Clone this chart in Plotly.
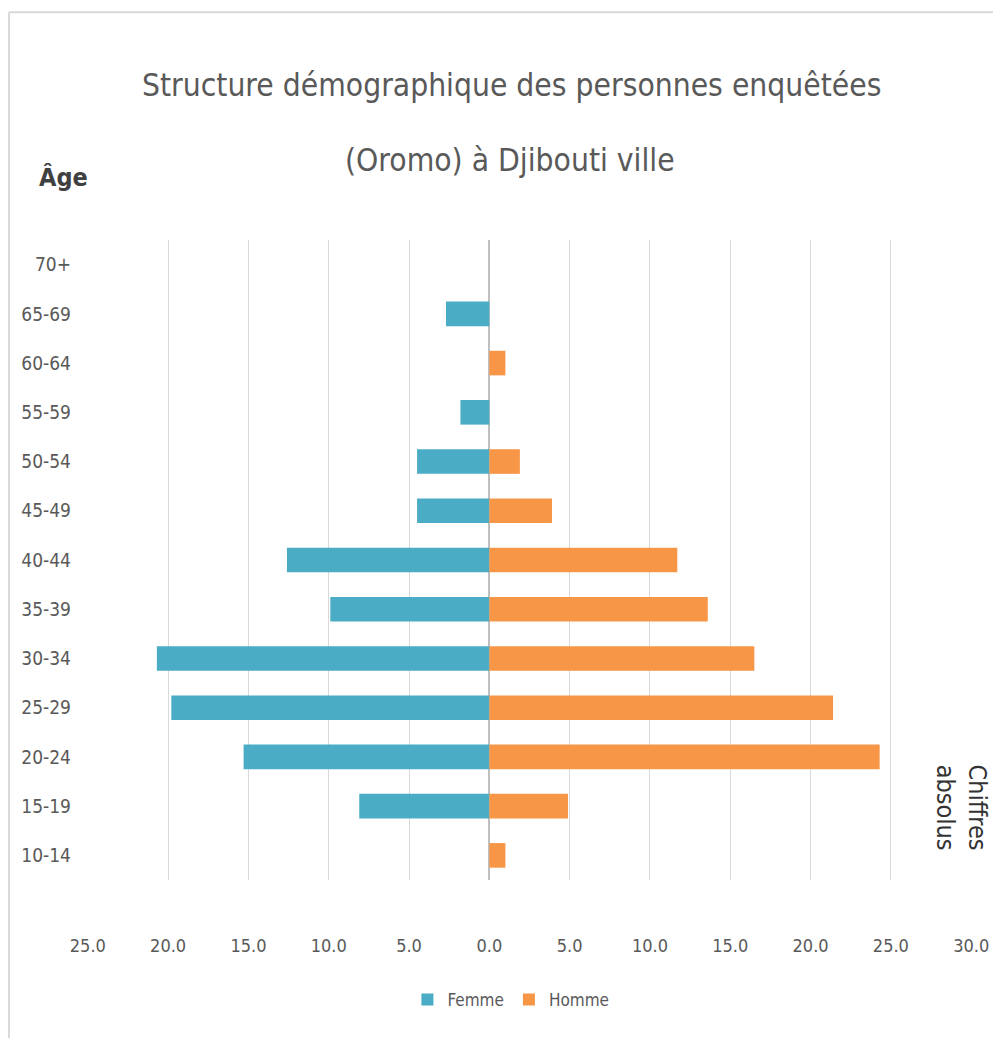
import plotly.graph_objects as go

ages = ["10-14", "15-19", "20-24", "25-29", "30-34", "35-39", "40-44",
        "45-49", "50-54", "55-59", "60-64", "65-69", "70+"]
femme = [0.0, 8.1, 15.3, 19.8, 20.7, 9.9, 12.6, 4.5, 4.5, 1.8, 0.0, 2.7, 0.0]
homme = [1.0, 4.9, 24.3, 21.4, 16.5, 13.6, 11.7, 3.9, 1.9, 0.0, 1.0, 0.0, 0.0]
tick_vals = [-25, -20, -15, -10, -5, 0, 5, 10, 15, 20, 25, 30]
tick_text = ["%.1f" % abs(v) for v in tick_vals]

FONT = "DejaVu Sans Condensed, Liberation Sans, sans-serif"
GREY = "#595959"

fig = go.Figure()
fig.add_trace(go.Bar(y=ages, x=[-v for v in femme], orientation="h", name="Femme",
                     marker=dict(color="#4BACC6", line=dict(width=0)),
                     hovertext=[str(v) for v in femme]))
fig.add_trace(go.Bar(y=ages, x=homme, orientation="h", name="Homme",
                     marker=dict(color="#F79646", line=dict(width=0))))

fig.update_layout(
    width=985, height=1030,
    paper_bgcolor="white", plot_bgcolor="white",
    barmode="relative", bargap=0.5,
    margin=dict(l=79, r=21, t=232, b=158, autoexpand=False),
    font=dict(family=FONT, color=GREY, size=18),
    showlegend=True,
    legend=dict(orientation="h", x=0.479, xanchor="center", y=-0.1875, yanchor="middle",
                font=dict(size=17, color=GREY), itemsizing="constant", itemwidth=30),
    xaxis=dict(range=[-25.05, 30.05], tickvals=tick_vals, ticktext=tick_text,
               showgrid=True, gridcolor="#d9d9d9", gridwidth=1,
               zeroline=True, zerolinecolor="#bfbfbf", zerolinewidth=1.5,
               showline=False, ticks="", ticklabelstandoff=53, automargin=False,
               tickfont=dict(size=18, color=GREY)),
    yaxis=dict(categoryorder="array", categoryarray=ages, automargin=False,
               showgrid=False, zeroline=False, showline=False, ticks="",
               ticklabelstandoff=15, tickfont=dict(size=19, color=GREY)),
    annotations=[
        dict(text="Structure démographique des personnes enquêtées", xref="paper", yref="paper",
             x=0.480, y=1.242, xanchor="center", yanchor="middle", showarrow=False,
             font=dict(size=31.5, color=GREY, family=FONT)),
        dict(text="(Oromo) à Djibouti ville", xref="paper", yref="paper",
             x=0.478, y=1.125, xanchor="center", yanchor="middle", showarrow=False,
             font=dict(size=31.5, color=GREY, family=FONT)),
        dict(text="<b>Âge</b>", xref="paper", yref="paper", x=-0.026, y=1.097,
             xanchor="center", yanchor="middle", showarrow=False,
             font=dict(size=25, color="#404040", family=FONT)),
        dict(text="Chiffres<br>absolus", xref="paper", yref="paper", x=0.988, y=0.1125,
             xanchor="center", yanchor="middle", showarrow=False, textangle=90,
             font=dict(size=25, color="#333333", family=FONT)),
    ],
    shapes=[
        dict(type="line", xref="paper", yref="paper", x0=-0.0881, x1=1.03, y0=1.356, y1=1.356,
             line=dict(color="#d9d9d9", width=2), layer="below"),
        dict(type="line", xref="paper", yref="paper", x0=-0.0881, x1=-0.0881, y0=-0.247, y1=1.356,
             line=dict(color="#d9d9d9", width=2), layer="below"),
    ],
)

fig.write_html("out.html")
